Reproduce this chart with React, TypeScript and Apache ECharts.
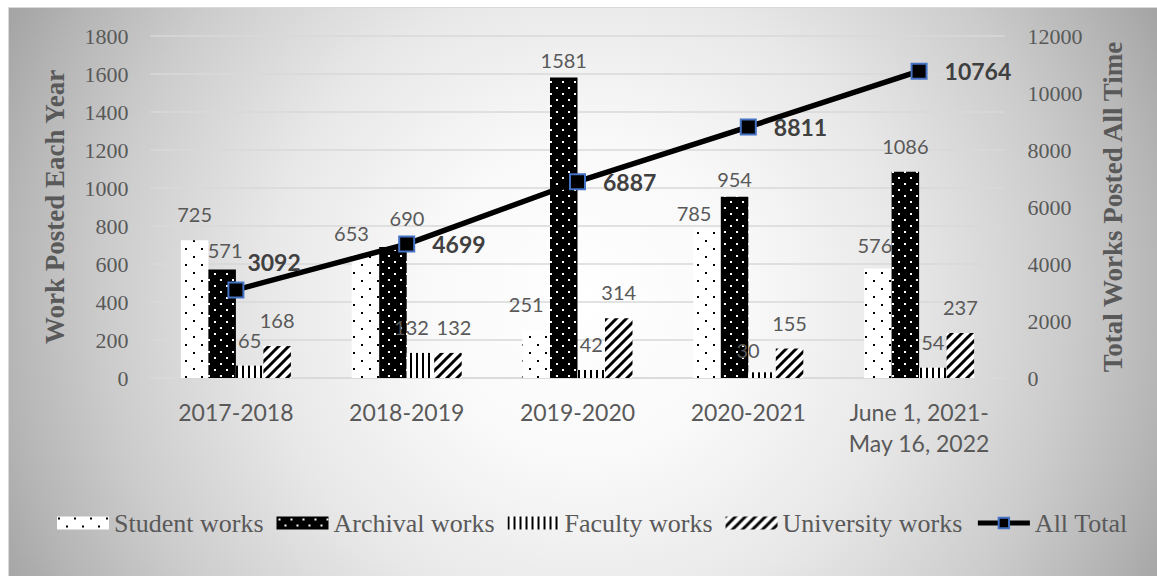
import React, { useEffect, useRef } from "react";
import * as echarts from "echarts";

const categories = [
  "2017-2018",
  "2018-2019",
  "2019-2020",
  "2020-2021",
  "June 1, 2021-\nMay 16, 2022",
];
const studentWorks = [725, 653, 251, 785, 576];
const archivalWorks = [571, 690, 1581, 954, 1086];
const facultyWorks = [65, 132, 42, 30, 54];
const universityWorks = [168, 132, 314, 155, 237];
const allTotal = [3092, 4699, 6887, 8811, 10764];

const leftAxisRange = { min: 0, max: 1800, interval: 200 };
const rightAxisRange = { min: 0, max: 12000, interval: 2000 };

// label nudges (Excel moved some labels to avoid overlaps)
const studentLabelShift = [[0, 0], [-14, 5], [-10, 0], [-13, 10], [-3, 2]];
const archivalLabelShift = [[3, 6], [14, -3], [0, 8], [0, 8], [0, 0]];
const facultyLabelShift = [[0, 0], [-9, 0], [0, 0], [-14, 4], [0, 0]];
const universityLabelShift = [[0, 0], [6, 0], [0, 0], [0, 0], [0, 0]];
const totalLabelShift = [[-14, -28], [0, 0], [0, 0], [0, 0], [0, 0]];

function makePattern(
  w: number,
  h: number,
  draw: (ctx: CanvasRenderingContext2D) => void
) {
  const c = document.createElement("canvas");
  c.width = w;
  c.height = h;
  const ctx = c.getContext("2d") as CanvasRenderingContext2D;
  draw(ctx);
  return { image: c.toDataURL(), repeat: "repeat", imageWidth: w, imageHeight: h };
}

function buildOption() {
  const studentPattern = makePattern(16, 16, (ctx) => {
    ctx.fillStyle = "#ffffff";
    ctx.fillRect(0, 0, 16, 16);
    ctx.fillStyle = "#000000";
    ctx.fillRect(1, 1, 2, 2);
    ctx.fillRect(9, 9, 2, 2);
  });
  const archivalPattern = makePattern(12, 12, (ctx) => {
    ctx.fillStyle = "#000000";
    ctx.fillRect(0, 0, 12, 12);
    ctx.fillStyle = "#ffffff";
    ctx.fillRect(2, 2, 2, 2);
    ctx.fillRect(8, 8, 2, 2);
  });
  const facultyPattern = makePattern(6, 6, (ctx) => {
    ctx.fillStyle = "#ffffff";
    ctx.fillRect(0, 0, 6, 6);
    ctx.fillStyle = "#000000";
    ctx.fillRect(0, 0, 2, 6);
  });
  const universityPattern = makePattern(10, 10, (ctx) => {
    ctx.fillStyle = "#ffffff";
    ctx.fillRect(0, 0, 10, 10);
    ctx.strokeStyle = "#000000";
    ctx.lineWidth = 3;
    ctx.beginPath();
    ctx.moveTo(-5, 5);
    ctx.lineTo(5, -5);
    ctx.moveTo(0, 10);
    ctx.lineTo(10, 0);
    ctx.moveTo(5, 15);
    ctx.lineTo(15, 5);
    ctx.stroke();
  });

  const labelBase = {
    show: true,
    position: "top",
    distance: 16,
    fontFamily: "Lato",
    fontSize: 20,
    color: "#595959",
  };

  const barSeries = (
    name: string,
    values: number[],
    shifts: number[][],
    pattern: any
  ) => ({
    name,
    type: "bar",
    barWidth: 27.5,
    barGap: "0%",
    itemStyle: { color: pattern },
    label: labelBase,
    data: values.map((v, i) => ({ value: v, label: { offset: shifts[i] } })),
  });

  const axisNameStyle = {
    fontFamily: "Liberation Serif",
    fontWeight: "bold",
    fontSize: 27,
    color: "#595959",
  };
  const axisLabelStyle = {
    fontFamily: "Liberation Serif",
    fontSize: 22,
    color: "#595959",
    formatter: (v: number) => String(v),
  };

  return {
    animation: false,
    grid: { left: 142.5, right: 152.5, top: 29, bottom: 198 },
    legend: {
      left: 44,
      top: 498,
      itemWidth: 52,
      itemHeight: 13,
      itemGap: 13,
      textStyle: { fontFamily: "Liberation Serif", fontSize: 26, color: "#595959" },
      data: [
        { name: "Student works", icon: "rect" },
        { name: "Archival works", icon: "rect" },
        { name: "Faculty works", icon: "rect" },
        { name: "University works", icon: "rect" },
        {
          name: "All Total",
          lineStyle: { width: 5, color: "#000000" },
        },
      ],
    },
    xAxis: {
      type: "category",
      data: categories,
      axisTick: { show: false },
      axisLine: { lineStyle: { color: "#d9d9d9", width: 1.5 } },
      axisLabel: {
        interval: 0,
        fontFamily: "Lato",
        fontSize: 23,
        lineHeight: 31,
        color: "#595959",
        margin: 18,
      },
    },
    yAxis: [
      {
        type: "value",
        ...leftAxisRange,
        name: "Work Posted Each Year",
        nameLocation: "middle",
        nameGap: 82,
        nameRotate: 90,
        nameTextStyle: axisNameStyle,
        axisLabel: { ...axisLabelStyle, margin: 22 },
        axisLine: { show: false },
        axisTick: { show: false },
        splitLine: { lineStyle: { color: "#d9d9d9", width: 1.5 } },
      },
      {
        type: "value",
        position: "right",
        ...rightAxisRange,
        name: "Total Works Posted All Time",
        nameLocation: "middle",
        nameGap: 95,
        nameRotate: 90,
        nameTextStyle: axisNameStyle,
        axisLabel: { ...axisLabelStyle, margin: 23 },
        axisLine: { show: false },
        axisTick: { show: false },
        splitLine: { show: false },
      },
    ],
    series: [
      barSeries("Student works", studentWorks, studentLabelShift, studentPattern),
      barSeries("Archival works", archivalWorks, archivalLabelShift, archivalPattern),
      barSeries("Faculty works", facultyWorks, facultyLabelShift, facultyPattern),
      barSeries("University works", universityWorks, universityLabelShift, universityPattern),
      {
        name: "All Total",
        type: "line",
        yAxisIndex: 1,
        z: 5,
        symbol: "rect",
        symbolSize: 15,
        lineStyle: { color: "#000000", width: 5.5 },
        itemStyle: { color: "#000000", borderColor: "#4472C4", borderWidth: 2 },
        label: {
          show: true,
          position: "right",
          distance: 17,
          fontFamily: "Lato",
          fontWeight: "bold",
          fontSize: 23,
          color: "#404040",
        },
        data: allTotal.map((v, i) => ({ value: v, label: { offset: totalLabelShift[i] } })),
      },
    ],
  };
}

export default function App() {
  const ref = useRef<HTMLDivElement>(null);
  useEffect(() => {
    document.body.style.margin = "0";
    document.body.style.overflow = "hidden";
    const chart = echarts.init(ref.current as HTMLDivElement, null, { renderer: "svg" });
    chart.setOption(buildOption() as any);
    return () => chart.dispose();
  }, []);
  return (
    <div
      style={{
        position: "absolute",
        left: 8,
        top: 7,
        width: 1149,
        height: 569,
        boxShadow: "inset 1px 1px 0 #d9d9d9",
        background:
          "radial-gradient(circle 640px at 577px 296px, #ffffff 0%, #f9f9f9 25%, #e8e8e8 50%, #cccccc 75%, #b6b6b6 90%, #a5a5a5 100%)",
      }}
    >
      <div ref={ref} style={{ width: 1149, height: 569 }} />
    </div>
  );
}
